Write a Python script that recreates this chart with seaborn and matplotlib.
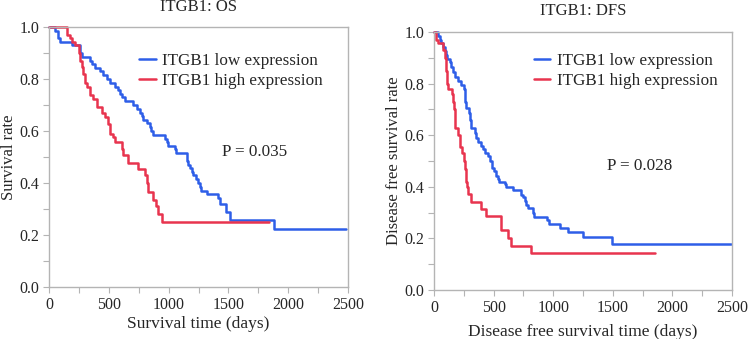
import numpy as np
import pandas as pd
import matplotlib
matplotlib.use("Agg")
import matplotlib.pyplot as plt
from matplotlib.ticker import MultipleLocator
import seaborn as sns

# OS curves (days, survival rate)
os_low_t = [0, 50, 78, 92, 189, 259, 273, 342, 356, 384, 426, 454, 482, 509, 551, 579, 593, 607, 635,
            704, 732, 760, 774, 788, 816, 844, 857, 871, 969, 983, 997, 1052, 1066, 1150, 1158, 1166,
            1178, 1192, 1205, 1233, 1247, 1261, 1275, 1317, 1414, 1428, 1484, 1512, 1882, 2480]
os_low_s = [1.0, .985, .957, .943, .929, .90, .886, .871, .857, .843, .829, .814, .80, .786, .771, .757,
            .743, .729, .714, .70, .686, .671, .657, .643, .629, .614, .60, .586, .571, .557, .543, .529,
            .514, .50, .486, .471, .457, .443, .429, .414, .40, .386, .371, .357, .343, .321, .29, .257,
            .222, .222]
os_high_t = [0, 148, 175, 189, 217, 253, 259, 273, 287, 301, 320, 342, 370, 398, 440, 468, 496, 509,
             537, 551, 607, 621, 663, 746, 802, 816, 830, 866, 894, 913, 941, 1840]
os_high_s = [1.0, .971, .957, .943, .929, .90, .871, .846, .82, .786, .77, .74, .724, .692, .67, .654,
             .628, .59, .575, .558, .53, .506, .477, .455, .43, .40, .365, .333, .31, .282, .25, .25]

# DFS curves
dfs_low_t = [0, 34, 48, 62, 76, 90, 104, 112, 132, 146, 160, 174, 202, 230, 252, 258, 263, 272, 294,
             306, 314, 342, 356, 370, 392, 412, 432, 454, 468, 488, 502, 516, 533, 544, 594, 608, 664,
             734, 748, 762, 776, 790, 832, 841, 945, 964, 1057, 1127, 1253, 1491, 2495]
dfs_low_s = [1.0, .985, .97, .957, .94, .925, .91, .897, .884, .865, .846, .824, .81, .795, .78, .76,
             .73, .704, .685, .66, .629, .61, .59, .575, .56, .545, .532, .52, .50, .472, .46, .44, .43,
             .42, .41, .40, .388, .37, .36, .345, .33, .317, .30, .284, .27, .256, .239, .224, .204,
             .177, .177]
dfs_high_t = [0, 20, 34, 76, 95, 104, 112, 118, 151, 163, 168, 174, 179, 202, 216, 235, 252, 258, 266,
              272, 277, 286, 314, 392, 440, 566, 617, 650, 813, 1850]
dfs_high_s = [1.0, .97, .956, .93, .90, .85, .80, .778, .76, .73, .70, .66, .627, .60, .556, .53, .50,
              .47, .446, .42, .40, .371, .342, .314, .287, .232, .203, .172, .145, .145]

groups = ["ITGB1 low expression", "ITGB1 high expression"]
colors = ["#2e5ee8", "#e8344e"]

sns.set_style("white")
plt.rcParams["font.family"] = ["Liberation Serif", "DejaVu Serif"]

fig = plt.figure(figsize=(7.5, 3.39), dpi=100)
ax1 = fig.add_axes([49 / 750, 1 - 287 / 339, 299 / 750, 260 / 339])
ax2 = fig.add_axes([434 / 750, 1 - 290 / 339, 298 / 750, 258 / 339])


def km_panel(ax, low_t, low_s, high_t, high_s, title, title_y, xlabel, xpad, ylabel, ptext, ppos, legpos):
    df = pd.concat([
        pd.DataFrame({"time": low_t, "surv": low_s, "group": groups[0]}),
        pd.DataFrame({"time": high_t, "surv": high_s, "group": groups[1]}),
    ])
    sns.lineplot(data=df, x="time", y="surv", hue="group", palette=colors, estimator=None,
                 drawstyle="steps-post", linewidth=1.8, ax=ax)
    for ln in ax.get_lines():
        ln.set_clip_on(False)
    ax.set_xlim(0, 2500)
    ax.set_ylim(0, 1.0)
    ax.xaxis.set_major_locator(MultipleLocator(500))
    ax.xaxis.set_minor_locator(MultipleLocator(250))
    ax.yaxis.set_major_locator(MultipleLocator(0.2))
    ax.yaxis.set_minor_locator(MultipleLocator(0.1))
    ax.yaxis.set_major_formatter(matplotlib.ticker.FormatStrFormatter("%.1f"))
    for s in ax.spines.values():
        s.set_color("#b4b4b4")
        s.set_linewidth(1.0)
    ax.tick_params(which="both", direction="out", length=4, width=0.8, color="#b4b4b4",
                   labelsize=11.5, bottom=True, left=True, pad=3)
    ax.text(0.5, title_y, title, transform=ax.transAxes, fontsize=12, ha="center", va="center")
    ax.set_xlabel(xlabel, fontsize=12.5, labelpad=xpad)
    ax.set_ylabel(ylabel, fontsize=12, labelpad=2)
    handles, labels = ax.get_legend_handles_labels()
    ax.legend(handles, labels, loc="upper left", bbox_to_anchor=legpos, frameon=False,
              fontsize=12.3, handlelength=0.95, handletextpad=0.4, labelspacing=0.25,
              borderaxespad=0.2)
    ax.text(ppos[0], ppos[1], ptext, transform=ax.transAxes, fontsize=12.3, ha="left", va="center")


km_panel(ax1, os_low_t, os_low_s, os_high_t, os_high_s, "ITGB1: OS", 1.075, "Survival time (days)", 2,
         "Survival rate", "P = 0.035", (0.58, 0.52), (0.268, 0.94))
km_panel(ax2, dfs_low_t, dfs_low_s, dfs_high_t, dfs_high_s, "ITGB1: DFS", 1.081,
         "Disease free survival time (days)", 6, "Disease free survival rate", "P = 0.028", (0.58, 0.48),
         (0.30, 0.96))

fig.savefig("out.png", dpi=100)
